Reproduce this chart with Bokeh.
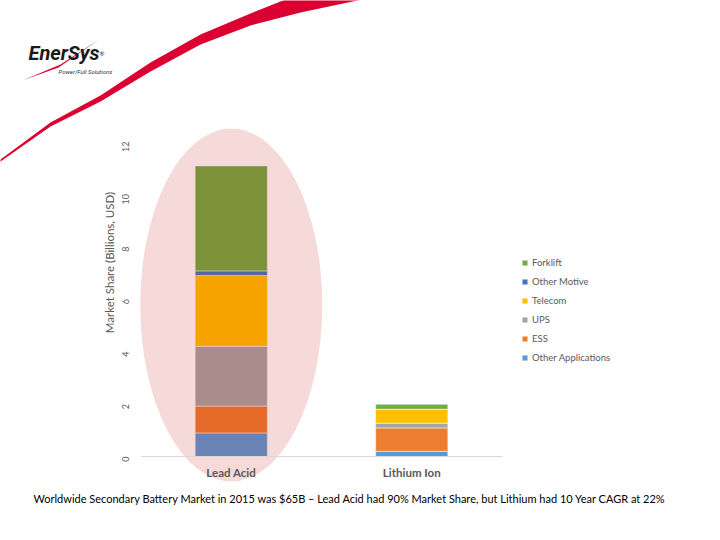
import math
from bokeh.plotting import figure
from bokeh.models import (Range1d, LinearAxis, FixedTicker, Legend, LegendItem,
                          ColumnDataSource)
from bokeh.embed import file_html
from bokeh.resources import INLINE
from bokeh.core.properties import value

# ---------------- data ----------------
technologies = ["Lead Acid", "Lithium Ion"]
segments = ["Other Applications", "ESS", "UPS", "Telecom", "Other Motive", "Forklift"]
other_applications = [0.90, 0.20]
ess = [1.02, 0.89]
ups = [2.28, 0.18]
telecom = [2.70, 0.52]
other_motive = [0.17, 0.01]
forklift = [4.00, 0.19]
y_ticks = [0, 2, 4, 6, 8, 10, 12]
y_title = "Market Share (Billions, USD)"
caption = ("Worldwide Secondary Battery Market in 2015 was $65B \u2013 Lead Acid had 90% "
           "Market Share, but Lithium had 10 Year CAGR at 22%")
colors = ["#5B9BD5", "#ED7D31", "#A5A5A5", "#FFC000", "#4472C4", "#70AD47"]

# ---------------- layout constants (picture pixels) ----------------
W, H = 704, 524
PX0, PY0 = 0, 0                # picture origin of the figure
CAT0_X, CAT_PX = 140.5, 180.5  # x of category coord 0, px per category
VAL0_Y, VAL_PX = 456.0, 26.25  # y of value 0, px per unit

p = figure(width=W, height=H, output_backend="svg", toolbar_location=None,
           x_range=Range1d(PX0, PX0 + W), y_range=Range1d(PY0 + H, PY0),
           x_axis_type=None, y_axis_type=None, min_border=0,
           outline_line_color=None, background_fill_color="white",
           border_fill_color="white")
p.grid.visible = False

p.extra_x_ranges = {"cat": Range1d((PX0 - CAT0_X) / CAT_PX, (PX0 + W - CAT0_X) / CAT_PX)}
p.extra_y_ranges = {"val": Range1d(-(PY0 + H - VAL0_Y) / VAL_PX, (VAL0_Y - PY0) / VAL_PX)}

FONT = "Lato"
font = value(FONT)

# ---------------- decorations ----------------
swoosh_top = [(-5, 163), (0, 159), (50, 122), (100, 95), (150, 62), (200, 34),
              (250, 13), (290, -3), (340, -14), (400, -20)]
swoosh_bot = [(400, -6), (357, 0), (300, 12), (250, 25), (200, 44), (150, 71),
              (100, 101), (50, 126), (0, 161), (-5, 165)]
sw = swoosh_top + swoosh_bot
p.patch([q[0] for q in sw], [q[1] for q in sw], fill_color="#DC0032", line_color=None)

logo_wedge = [(23, 79.5), (60, 64), (98, 39.5), (58, 67)]
p.patch([q[0] for q in logo_wedge], [q[1] for q in logo_wedge],
        fill_color="#DC0032", line_color=None)
p.text(x=[28], y=[52], text=["EnerSys"], text_baseline="alphabetic",
       text_font=value("Roboto"), text_font_style="bold italic",
       text_font_size="20px", text_color="#1a1a1a")
p.text(x=[99], y=[53], text=["\u00ae"], text_baseline="alphabetic",
       text_font=font, text_font_size="6px", text_color="#1a1a1a")
p.text(x=[58], y=[71], text=["Power/Full Solutions"], text_baseline="middle",
       text_font=value("Roboto"), text_font_style="italic",
       text_font_size="6px", text_color="#333333")

# ---------------- bars ----------------
src = ColumnDataSource(dict(
    x=[0.5 + i for i in range(len(technologies))],
    **{"Other Applications": other_applications, "ESS": ess, "UPS": ups,
       "Telecom": telecom, "Other Motive": other_motive, "Forklift": forklift}))
renderers = p.vbar_stack(segments, x="x", width=0.4, source=src, color=colors,
                         line_color="white", line_width=0.5,
                         x_range_name="cat", y_range_name="val")

# highlight ellipse over the lead-acid bar
p.ellipse(x=[0.5], y=[(VAL0_Y - 304.5) / VAL_PX], width=[182 / CAT_PX],
          height=[353 / VAL_PX], fill_color="#C00000", fill_alpha=0.15,
          line_color=None, x_range_name="cat", y_range_name="val")

# ---------------- axes ----------------
yaxis = LinearAxis(x_range_name="cat", y_range_name="val", fixed_location=0,
                   ticker=FixedTicker(ticks=y_ticks), axis_line_color=None,
                   major_tick_line_color=None, minor_tick_line_color=None,
                   major_tick_out=0, major_tick_in=0, minor_tick_out=0, minor_tick_in=0,
                   major_label_orientation=math.pi / 2, major_label_standoff=16,
                   major_label_text_font=FONT, major_label_text_font_size="9px",
                   major_label_text_color="#595959",
                   axis_label=y_title, axis_label_standoff=0,
                   axis_label_text_font=FONT, axis_label_text_font_size="11.5px",
                   axis_label_text_font_style="normal", axis_label_text_color="#595959")
p.add_layout(yaxis, "left")

xaxis = LinearAxis(x_range_name="cat", y_range_name="val", fixed_location=0,
                   ticker=FixedTicker(ticks=[0.5 + i for i in range(len(technologies))]),
                   major_label_overrides={0.5 + i: t for i, t in enumerate(technologies)},
                   bounds=(0, len(technologies)), axis_line_color="#D9D9D9",
                   axis_line_width=1,
                   major_tick_line_color=None, minor_tick_line_color=None,
                   major_tick_out=0, major_tick_in=0, minor_tick_out=0, minor_tick_in=0,
                   major_label_standoff=9, major_label_text_font=FONT,
                   major_label_text_font_style="bold", major_label_text_font_size="11.5px",
                   major_label_text_color="#595959")
p.add_layout(xaxis, "below")

# ---------------- legend ----------------
items = [LegendItem(label=s, renderers=[r]) for s, r in zip(segments, renderers)][::-1]
legend = Legend(items=items, location=(521, 160), orientation="vertical",
                label_text_font=FONT, label_text_font_size="9.5px",
                label_text_color="#595959", glyph_width=7, glyph_height=7,
                label_height=14, label_standoff=4, spacing=5, padding=0, margin=0,
                border_line_color=None, background_fill_alpha=0)
p.add_layout(legend)

# ---------------- caption ----------------
p.text(x=[33], y=[498], text=[caption], text_baseline="middle", text_align="left",
       text_font=font, text_font_size="11px", text_color="#000000")

open("out.html", "w").write(file_html(p, INLINE))
